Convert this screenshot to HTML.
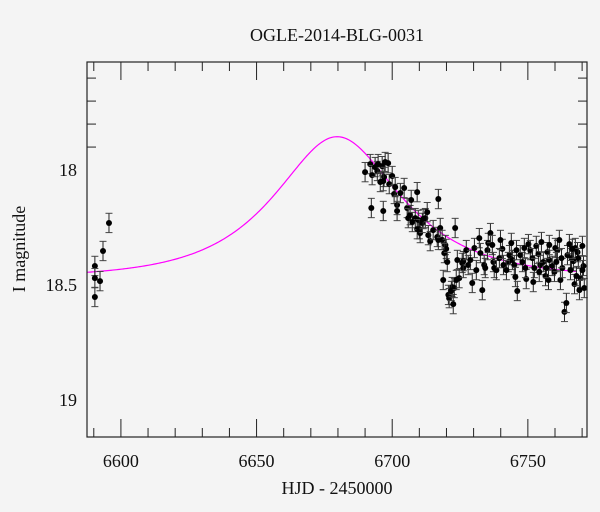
<!DOCTYPE html>
<html><head><meta charset="utf-8"><style>
html,body{margin:0;padding:0;background:#f4f4f4;}
svg{display:block;font-family:"Liberation Serif",serif;}
</style></head><body>
<svg id="chart" width="600" height="512">
<rect width="600" height="512" fill="#f4f4f4"/>
<text x="337" y="41" text-anchor="middle" font-size="18" fill="#111">OGLE-2014-BLG-0031</text>
<text x="337" y="494" text-anchor="middle" font-size="18" fill="#111">HJD - 2450000</text>
<text transform="translate(25,249) rotate(-90)" text-anchor="middle" font-size="18" fill="#111">I magnitude</text>
<g id="ticks"></g>
<path id="model" fill="none" stroke="#ff00ff" stroke-width="1.2"/>
<g id="pts"></g>
<rect x="87" y="62" width="500" height="375" fill="none" stroke="#222" stroke-width="1.2"/>
</svg>
<script>
const hjd = [6590.4,6590.4,6590.4,6592.3,6593.4,6595.6,
6690.0,6691.9,6692.6,6693.7,6694.5,6694.8,6695.6,6696.3,6697.4,6698.5,6697.0,6696.7,6698.9,6700.0,6700.7,6701.1,6701.8,6703.0,6701.8,6704.4,6705.5,6705.9,6706.6,6707.0,6707.4,6708.5,6709.2,6709.6,6710.0,6710.3,6711.1,6711.4,6712.2,6712.9,6713.3,6714.0,6715.1,6716.6,6717.0,6717.7,6718.4,6719.6,6719.9,6719.2,6718.8,6720.3,6720.7,6721.0,6722.1,6721.8,6722.5,6722.9,6723.6,6724.0,6724.7,6725.8,6726.2,6692.3,6696.7,6709.2,6717.0,6723.2,
6726.2,6727.3,6728.0,6728.8,6729.5,6730.3,6731.0,6732.1,6732.5,6733.2,6733.9,6734.3,6735.1,6735.4,6736.2,6736.9,6737.3,6737.6,6738.4,6742.8,6743.2,6743.9,6744.3,6745.0,6745.4,6745.8,6746.1,6747.2,6748.0,6748.7,6749.4,6750.2,6750.9,6751.7,6752.4,6753.1,6753.9,6754.6,6755.0,6755.7,6756.5,6757.2,6757.9,6759.0,6760.1,6760.9,6761.6,6762.0,6762.7,6763.5,6764.2,6764.6,6765.3,6766.1,6766.8,6767.5,6768.3,6768.6,6769.4,6770.1,6770.5,6769.0,6770.8,
6739.5,6741.0,6742.1,6740.6,6749.1,6752.0,6757.6,6759.8,6760.5,6765.7,6767.2,6770.1,6757.9,6754.2,6756.8,6762.4,6766.4,6767.9,6739.9];
const imag = [18.417,18.470,18.552,18.483,18.352,18.230,
18.009,17.974,18.022,17.987,18.004,17.974,18.052,17.983,17.965,17.970,18.030,18.048,18.061,18.026,18.104,18.074,18.152,18.100,18.178,18.078,18.165,18.209,18.196,18.130,18.226,18.209,18.257,18.217,18.257,18.274,18.230,18.213,18.209,18.183,18.283,18.309,18.261,18.291,18.304,18.252,18.304,18.326,18.343,18.361,18.478,18.400,18.543,18.557,18.509,18.526,18.583,18.513,18.478,18.391,18.470,18.404,18.426,18.165,18.178,18.096,18.126,18.252,
18.396,18.348,18.413,18.391,18.491,18.339,18.435,18.296,18.361,18.522,18.413,18.426,18.348,18.317,18.274,18.326,18.400,18.426,18.435,18.400,18.370,18.317,18.391,18.413,18.465,18.348,18.526,18.370,18.400,18.339,18.474,18.322,18.348,18.383,18.426,18.330,18.365,18.413,18.313,18.400,18.461,18.357,18.391,18.417,18.339,18.348,18.304,18.478,18.426,18.617,18.578,18.370,18.322,18.383,18.396,18.339,18.357,18.383,18.470,18.330,18.417,18.522,18.513,
18.383,18.413,18.435,18.343,18.426,18.487,18.478,18.443,18.400,18.435,18.496,18.435,18.326,18.443,18.426,18.383,18.343,18.461,18.304];
const magErr = 0.042;
const xTicks = [6600,6650,6700,6750];
const yTicks = [18,18.5,19];
// model parameters
const t0 = 6679.7, u0 = 0.655, tE = 35, baseMag = 18.47;

const X0=87,X1=587,Y0=62,Y1=437;
const tMin=6587.5,tMax=6771.8,mMin=17.530,mMax=19.161;
const sx=t=>X0+(t-tMin)/(tMax-tMin)*(X1-X0);
const sy=m=>Y0+(m-mMin)/(mMax-mMin)*(Y1-Y0);
const NS="http://www.w3.org/2000/svg";
function mk(tag,attrs,parent){const e=document.createElementNS(NS,tag);for(const k in attrs)e.setAttribute(k,attrs[k]);parent.appendChild(e);return e;}
const tg=document.getElementById('ticks');
for(let t=6590;t<=6770;t+=10){
  const major=t%50===0, L=major?18:9, x=sx(t);
  const a=mk('line',{x1:x,x2:x,y1:Y1,y2:Y1-L,stroke:'#222','stroke-width':1},tg);
  
  
  const b=mk('line',{x1:x,x2:x,y1:Y0,y2:Y0+L,stroke:'#222','stroke-width':1},tg);
  
  
}
xTicks.forEach(t=>{
  const l=mk('text',{x:sx(t),y:467,'text-anchor':'middle','font-size':18,fill:'#111'},tg);
  l.textContent=t;
  
  
});
for(let i=6;i<=19;i++){
  const m=i/10+16, major=i%5===0, L=major?18:9, y=sy(m);
  if(m<mMin||m>mMax)continue;
  const a=mk('line',{x1:X0,x2:X0+L,y1:y,y2:y,stroke:'#222','stroke-width':1},tg);
  
  
  const b=mk('line',{x1:X1,x2:X1-L,y1:y,y2:y,stroke:'#222','stroke-width':1},tg);
  
  
}
yTicks.forEach(m=>{
  const l=mk('text',{x:77,y:sy(m)+6,'text-anchor':'end','font-size':18,fill:'#111'},tg);
  l.textContent=String(m);
  
  
});
let d='';
for(let t=tMin;t<=6768;t+=0.5){
  const tau=(t-t0)/tE,u=Math.sqrt(u0*u0+tau*tau);
  const A=(u*u+2)/(u*Math.sqrt(u*u+4));
  const m=baseMag-2.5*Math.log10(A);
  d+=(d?'L':'M')+sx(t).toFixed(2)+','+sy(m).toFixed(2);
}
document.getElementById('model').setAttribute('d',d);
const pg=document.getElementById('pts');
hjd.forEach((t,i)=>{
  const x=sx(t),y=sy(imag[i]),ya=sy(imag[i]-magErr),yb=sy(imag[i]+magErr);
  const g=mk('g',{},pg);
  
  
  mk('line',{x1:x,x2:x,y1:ya,y2:yb,stroke:'#222','stroke-width':1},g);
  mk('line',{x1:x-3.5,x2:x+3.5,y1:ya,y2:ya,stroke:'#444','stroke-width':1},g);
  mk('line',{x1:x-3.5,x2:x+3.5,y1:yb,y2:yb,stroke:'#444','stroke-width':1},g);
  mk('circle',{cx:x,cy:y,r:3,fill:'#000'},g);
});
</script>
</body></html>
